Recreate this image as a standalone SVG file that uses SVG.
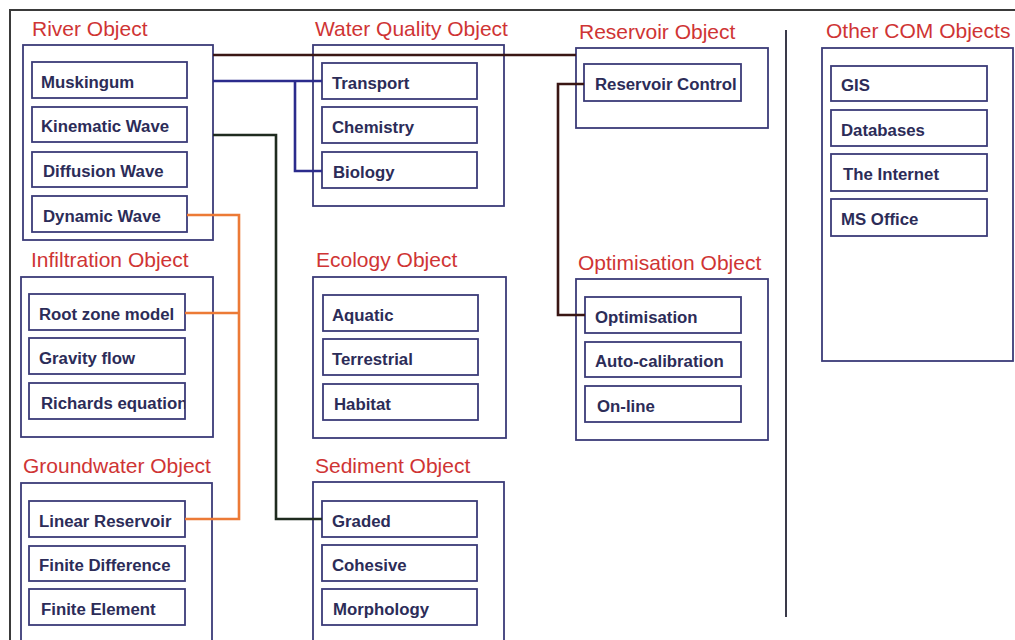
<svg xmlns="http://www.w3.org/2000/svg" width="1015" height="640" viewBox="0 0 1015 640">
  <defs>
    <style>
      .frame { fill: none; stroke: #3a3a3a; stroke-width: 2; }
      .box { fill: none; stroke: #3b3b78; stroke-width: 1.8; }
      .item { fill: #ffffff; stroke: #3b3b78; stroke-width: 1.8; }
      .title { font-family: "Liberation Sans", Arial, sans-serif; font-size: 21px; fill: #cf3434; }
      .label { font-family: "Liberation Sans", Arial, sans-serif; font-size: 16.8px; font-weight: bold; fill: #2c2c58; }
      .link { fill: none; stroke-width: 2.6; stroke-linejoin: miter; }
      .brown { stroke: #3a1614; }
      .blue { stroke: #2b2b8c; }
      .green { stroke: #1f2b1f; }
      .orange { stroke: #ec7a36; }
    </style>
    <clipPath id="clip-richards">
      <rect x="29" y="383" width="156" height="36"/>
    </clipPath>
  </defs>

  <rect width="1015" height="640" fill="#ffffff"/>

  <!-- outer frame and divider -->
  <g id="frame">
    <path class="frame" d="M10 640 V10 H1015"/>
    <line x1="786" y1="30" x2="786" y2="617" stroke="#3a3a4a" stroke-width="2"/>
  </g>

  <g id="river">
    <text class="title" x="32" y="36">River Object</text>
    <rect class="box" x="23" y="45" width="190" height="195"/>
    <rect class="item" x="32" y="62" width="155" height="36"/>
    <text class="label" x="41" y="87.5">Muskingum</text>
    <rect class="item" x="32" y="107" width="155" height="35"/>
    <text class="label" x="41" y="132">Kinematic Wave</text>
    <rect class="item" x="32" y="152" width="155" height="35"/>
    <text class="label" x="43" y="177">Diffusion Wave</text>
    <rect class="item" x="32" y="196" width="155" height="36"/>
    <text class="label" x="43" y="221.5">Dynamic Wave</text>
  </g>

  <g id="water-quality">
    <text class="title" x="315" y="36">Water Quality Object</text>
    <rect class="box" x="313" y="45" width="191" height="161"/>
    <rect class="item" x="322" y="63" width="155" height="36"/>
    <text class="label" x="332" y="88.5">Transport</text>
    <rect class="item" x="322" y="107" width="155" height="36"/>
    <text class="label" x="332" y="132.5">Chemistry</text>
    <rect class="item" x="322" y="152" width="155" height="36"/>
    <text class="label" x="333" y="177.5">Biology</text>
  </g>

  <g id="reservoir">
    <text class="title" x="579" y="39">Reservoir Object</text>
    <rect class="box" x="576" y="48" width="192" height="80"/>
    <rect class="item" x="584" y="64" width="157" height="37"/>
    <text class="label" x="595" y="90">Reservoir Control</text>
  </g>

  <g id="other-com">
    <text class="title" x="826" y="38">Other COM Objects</text>
    <rect class="box" x="822" y="48" width="191" height="313"/>
    <rect class="item" x="831" y="66" width="156" height="35"/>
    <text class="label" x="841" y="91">GIS</text>
    <rect class="item" x="831" y="110" width="156" height="36"/>
    <text class="label" x="841" y="135.5">Databases</text>
    <rect class="item" x="831" y="154" width="156" height="37"/>
    <text class="label" x="843" y="180">The Internet</text>
    <rect class="item" x="831" y="199" width="156" height="37"/>
    <text class="label" x="841" y="225">MS Office</text>
  </g>

  <g id="infiltration">
    <text class="title" x="31" y="267">Infiltration Object</text>
    <rect class="box" x="21" y="277" width="192" height="160"/>
    <rect class="item" x="29" y="294" width="156" height="36"/>
    <text class="label" x="39" y="319.5">Root zone model</text>
    <rect class="item" x="29" y="338" width="156" height="36"/>
    <text class="label" x="39" y="363.5">Gravity flow</text>
    <rect class="item" x="29" y="383" width="156" height="36"/>
    <text class="label" x="41" y="408.5" clip-path="url(#clip-richards)">Richards equation</text>
  </g>

  <g id="ecology">
    <text class="title" x="316" y="267">Ecology Object</text>
    <rect class="box" x="313" y="277" width="193" height="161"/>
    <rect class="item" x="323" y="295" width="155" height="36"/>
    <text class="label" x="332" y="320.5">Aquatic</text>
    <rect class="item" x="323" y="339" width="155" height="36"/>
    <text class="label" x="332" y="364.5">Terrestrial</text>
    <rect class="item" x="323" y="384" width="155" height="36"/>
    <text class="label" x="334" y="409.5">Habitat</text>
  </g>

  <g id="optimisation">
    <text class="title" x="578" y="270">Optimisation Object</text>
    <rect class="box" x="576" y="279" width="192" height="161"/>
    <rect class="item" x="585" y="297" width="156" height="36"/>
    <text class="label" x="595" y="322.5">Optimisation</text>
    <rect class="item" x="585" y="342" width="156" height="35"/>
    <text class="label" x="595" y="367">Auto-calibration</text>
    <rect class="item" x="585" y="386" width="156" height="36"/>
    <text class="label" x="597" y="411.5">On-line</text>
  </g>

  <g id="groundwater">
    <text class="title" x="23" y="473">Groundwater Object</text>
    <rect class="box" x="21" y="483" width="191" height="170"/>
    <rect class="item" x="29" y="501" width="156" height="36"/>
    <text class="label" x="39" y="526.5">Linear Reservoir</text>
    <rect class="item" x="29" y="546" width="156" height="35"/>
    <text class="label" x="39" y="571">Finite Difference</text>
    <rect class="item" x="29" y="589" width="156" height="36"/>
    <text class="label" x="41" y="614.5">Finite Element</text>
  </g>

  <g id="sediment">
    <text class="title" x="315" y="473">Sediment Object</text>
    <rect class="box" x="313" y="482" width="191" height="170"/>
    <rect class="item" x="322" y="501" width="155" height="36"/>
    <text class="label" x="332" y="526.5">Graded</text>
    <rect class="item" x="322" y="545" width="155" height="36"/>
    <text class="label" x="332" y="570.5">Cohesive</text>
    <rect class="item" x="322" y="589" width="155" height="36"/>
    <text class="label" x="333" y="614.5">Morphology</text>
  </g>

  <!-- links between objects -->
  <g id="connectors">
    <path class="link brown" d="M213 55 H576"/>
    <path class="link blue" d="M213 81 H322 M295 81 V171 H322"/>
    <path class="link green" d="M213 135 H276 V519 H322"/>
    <path class="link orange" d="M187 215 H239 V519 H185 M185 313 H239"/>
    <path class="link brown" d="M584 84 H558 V315 H585" stroke-width="3"/>
  </g>
</svg>
